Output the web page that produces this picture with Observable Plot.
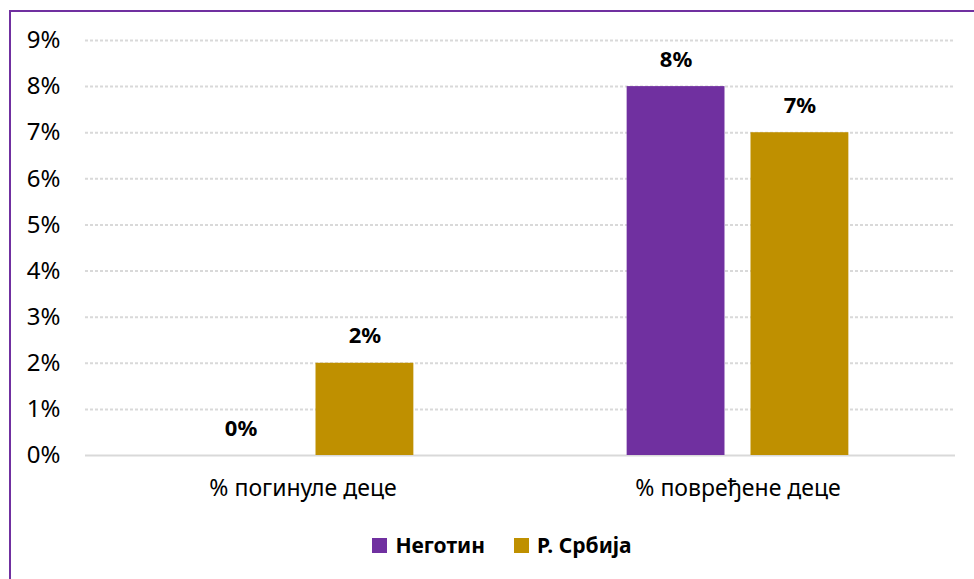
<!DOCTYPE html>
<html>
<head>
<meta charset="utf-8">
<script src="https://cdn.jsdelivr.net/npm/d3@7"></script>
<script src="https://cdn.jsdelivr.net/npm/@observablehq/plot@0.6"></script>
<style>
  html, body { margin: 0; padding: 0; background: #fff; }
  body { width: 974px; height: 579px; position: relative; overflow: hidden; font-family: "Noto Sans", sans-serif; }
  #frame { position: absolute; left: 9px; top: 10px; width: 970px; height: 580px; border-left: 2px solid #7030a0; border-top: 2px solid #7030a0; box-sizing: border-box; }
  #chart { position: absolute; left: 0; top: 0; }
  #legend { position: absolute; top: 531px; left: 0; width: 974px; display: flex; justify-content: center; gap: 29px; font-weight: bold; font-size: 21px; color: #000; padding-left: 30px; box-sizing: border-box; }
  .item { display: flex; align-items: center; gap: 8px; }
  .sw { width: 15px; height: 15px; display: inline-block; }
</style>
</head>
<body>
<div id="frame"></div>
<div id="chart"></div>
<div id="legend"></div>
<script>
const categories = ["% погинуле деце", "% повређене деце"];
const series = ["Неготин", "Р. Србија"];
const negotin = [0, 0.08];
const srbija = [0.02, 0.07];
const colors = ["#7030a0", "#bf9000"];
const yTicks = [0, 0.01, 0.02, 0.03, 0.04, 0.05, 0.06, 0.07, 0.08, 0.09];

const data = categories.flatMap((c, i) => [
  {category: c, series: series[0], value: negotin[i]},
  {category: c, series: series[1], value: srbija[i]}
]);
const pct = d3.format(".0%");

const chart = Plot.plot({
  width: 974,
  height: 520,
  marginLeft: 84,
  marginRight: 19,
  marginTop: 40,
  marginBottom: 65,
  style: {fontFamily: "Noto Sans, sans-serif", background: "transparent"},
  fx: {domain: categories, padding: 0, label: null},
  x: {domain: series, paddingInner: 0.21, paddingOuter: 0.861, round: false, axis: null},
  y: {domain: [0, 0.09], label: null},
  color: {domain: series, range: colors},
  marks: [
    Plot.ruleY(yTicks.slice(1), {stroke: "#d9d9d9", strokeWidth: 2, strokeDasharray: "3,2"}),
    Plot.ruleY([0], {stroke: "#d9d9d9", strokeWidth: 2}),
    Plot.barY(data, {fx: "category", x: "series", y: "value", fill: "series"}),
    Plot.text(data, {fx: "category", x: "series", y: "value", text: d => pct(d.value), dy: -27, fontWeight: "bold", fontSize: 22, fill: "#000"}),
    Plot.axisY({ticks: yTicks, tickFormat: pct, tickSize: 0, tickPadding: 25, fontSize: 24, fill: "#000", label: null}),
    Plot.axisFx({anchor: "bottom", tickSize: 0, tickPadding: 24, fontSize: 23, fill: "#000", label: null})
  ]
});
document.getElementById("chart").appendChild(chart);

const legend = document.getElementById("legend");
series.forEach((s, i) => {
  const item = document.createElement("div");
  item.className = "item";
  const sw = document.createElement("span");
  sw.className = "sw";
  sw.style.background = colors[i];
  const t = document.createElement("span");
  t.textContent = s;
  item.appendChild(sw);
  item.appendChild(t);
  legend.appendChild(item);
});
</script>
</body>
</html>
